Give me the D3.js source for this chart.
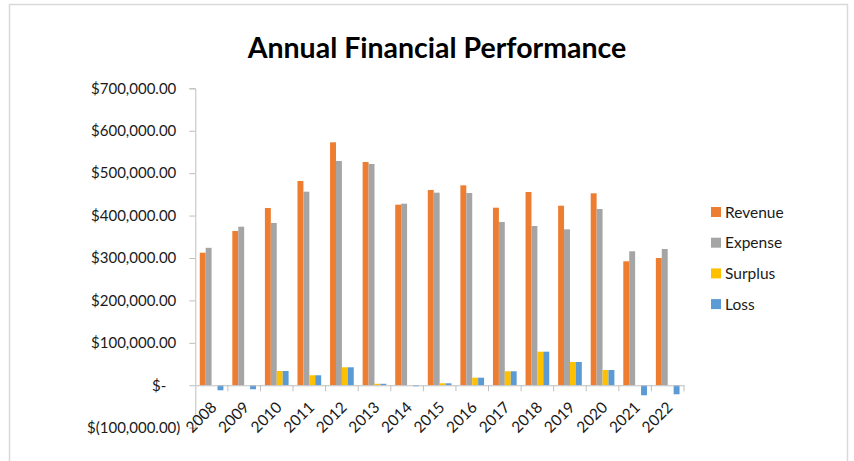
<!DOCTYPE html>
<html>
<head>
<meta charset="utf-8">
<script src="https://cdn.jsdelivr.net/npm/d3@7"></script>
<style>
  body { margin: 0; background: #fff; }
  svg text { font-family: Lato, "Open Sans", sans-serif; }
</style>
</head>
<body>
<div id="chart"></div>
<script>
  const years = ['2008', '2009', '2010', '2011', '2012', '2013', '2014', '2015',
                 '2016', '2017', '2018', '2019', '2020', '2021', '2022'];
  const seriesNames = ['Revenue', 'Expense', 'Surplus', 'Loss'];
  const revenue = [312500, 363600, 417900, 481500, 572700, 526300, 425700, 460300,
                   471300, 418600, 455600, 423300, 452500, 292200, 300000];
  const expense = [324000, 373800, 382500, 456300, 528600, 521600, 428000, 454000,
                   453200, 384900, 375400, 367600, 415500, 315800, 321200];
  const surplus = [0, 0, 33700, 23600, 42400, 3500, 0, 4700,
                   17900, 33000, 79200, 54900, 36000, 0, 0];
  const loss = [-11800, -9400, 33700, 23600, 42400, 3500, -1500, 4700,
                17900, 33000, 79200, 54900, 36000, -23600, -21200];
  const yTicks = [-100000, 0, 100000, 200000, 300000, 400000, 500000, 600000, 700000];
  const colors = ['#ED7D31', '#A5A5A5', '#FFC000', '#5B9BD5'];

  const W = 854, H = 461;
  const svg = d3.select('#chart').append('svg')
    .attr('width', W)
    .attr('height', H);

  // outer chart frame
  svg.append('rect')
    .attr('x', 9.5).attr('y', 4.5)
    .attr('width', 838).attr('height', 470)
    .attr('fill', 'none')
    .attr('stroke', '#d9d9d9')
    .attr('stroke-width', 1.5);

  svg.append('text')
    .attr('x', 437).attr('y', 58)
    .attr('text-anchor', 'middle')
    .style('font-size', '28.5px')
    .style('font-weight', 'bold')
    .attr('fill', '#000')
    .text('Annual Financial Performance');

  const left = 195.3, right = 684;
  const x0 = d3.scaleBand().domain(years).range([left, right]).padding(0);
  const x1 = d3.scaleBand().domain(seriesNames)
    .range([0, x0.bandwidth()])
    .paddingInner(0).paddingOuter(0.75);
  const y = d3.scaleLinear().domain([-100000, 700000]).range([427.7, 88.3]);

  const values = [revenue, expense, surplus, loss];
  const rows = [];
  seriesNames.forEach((s, i) => {
    years.forEach((yr, j) => rows.push({ s, i, yr, v: values[i][j] }));
  });

  svg.append('g').selectAll('rect')
    .data(rows.filter(d => d.v !== 0))
    .join('rect')
    .attr('x', d => x0(d.yr) + x1(d.s))
    .attr('width', x1.bandwidth())
    .attr('y', d => y(Math.max(0, d.v)))
    .attr('height', d => Math.max(1, Math.abs(y(d.v) - y(0))))
    .attr('fill', d => colors[d.i]);

  // y axis
  const fmt = d3.format(',.2f');
  const yAxis = svg.append('g')
    .attr('transform', 'translate(' + left + ',0)')
    .call(d3.axisLeft(y).tickValues(yTicks).tickSize(6).tickPadding(13)
      .tickFormat(d => d === 0 ? '$-' : d < 0 ? '$(' + fmt(-d) + ')' : '$' + fmt(d)));
  yAxis.select('.domain').attr('stroke', '#bfbfbf');
  yAxis.selectAll('.tick line').attr('stroke', '#bfbfbf');
  yAxis.selectAll('.tick text')
    .style('font-size', '15px')
    .attr('fill', '#1a1a1a')
    .attr('dx', d => d === 0 ? -10 : d < 0 ? 4 : 0);

  // x axis along zero line
  const xAxis = svg.append('g')
    .attr('transform', 'translate(0,' + y(0) + ')')
    .call(d3.axisBottom(x0).tickSize(0).tickSizeOuter(0));
  xAxis.select('.domain').attr('stroke', '#bfbfbf');
  xAxis.selectAll('.tick text').remove();
  xAxis.selectAll('.sep')
    .data(years)
    .join('line')
    .attr('x1', d => x0(d) + x0.bandwidth())
    .attr('x2', d => x0(d) + x0.bandwidth())
    .attr('y1', 0).attr('y2', 6)
    .attr('stroke', '#bfbfbf');

  svg.append('g').selectAll('text')
    .data(years)
    .join('text')
    .attr('transform', d => 'translate(' + (x0(d) + x0.bandwidth() / 2 + 6) + ',' + (y(0) + 23) + ') rotate(-45)')
    .attr('text-anchor', 'end')
    .style('font-size', '15.5px')
    .attr('fill', '#1a1a1a')
    .text(d => d);

  // legend
  const legend = svg.append('g');
  seriesNames.forEach((s, i) => {
    const cy = 212 + i * 30.7;
    legend.append('rect')
      .attr('x', 711).attr('y', cy - 5)
      .attr('width', 10).attr('height', 10)
      .attr('fill', colors[i]);
    legend.append('text')
      .attr('x', 725).attr('y', cy + 5.5)
      .style('font-size', '15.5px')
      .attr('fill', '#1a1a1a')
      .text(s);
  });
</script>
</body>
</html>
